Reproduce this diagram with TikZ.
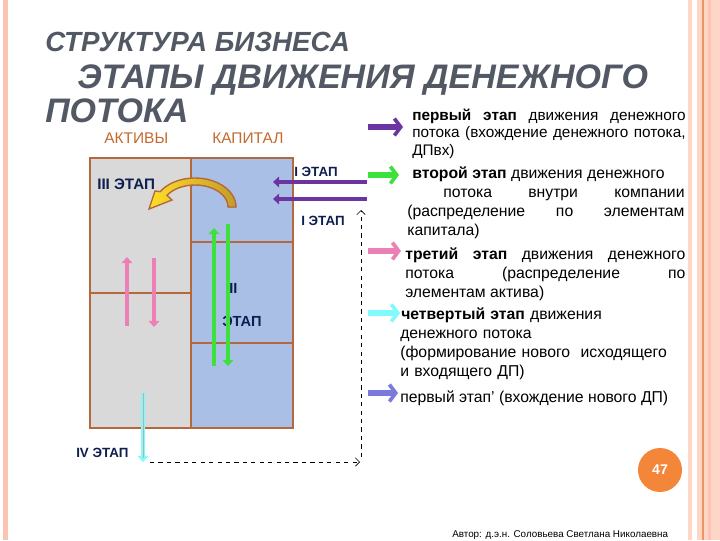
\documentclass[tikz,border=0pt]{standalone}
\usepackage{fontspec}
\setmainfont{Liberation Sans}
\usetikzlibrary{arrows.meta}
\definecolor{titlegray}{RGB}{82,88,100}
\definecolor{accent}{RGB}{196,106,48}
\definecolor{navy}{RGB}{14,30,80}
\definecolor{gridline}{RGB}{180,104,60}
\definecolor{assetgray}{RGB}{217,217,217}
\definecolor{capblue}{RGB}{170,191,230}
\definecolor{flowpurple}{RGB}{108,52,160}
\definecolor{flowgreen}{RGB}{60,225,60}
\definecolor{flowpink}{RGB}{236,128,180}
\definecolor{flowcyan}{RGB}{128,250,250}
\definecolor{flowviolet}{RGB}{122,122,222}
\definecolor{pagecirc}{RGB}{244,134,58}
\definecolor{bandA}{RGB}{252,196,176}
\definecolor{bandB}{RGB}{253,214,200}
\definecolor{bandC}{RGB}{236,148,100}
\definecolor{goldL}{RGB}{255,222,40}
\definecolor{goldR}{RGB}{196,156,40}

\begin{document}
\begin{tikzpicture}[x=0.025cm, y=-0.025cm, every node/.style={inner sep=0pt}, >={Triangle[length=4.3pt, width=7.5pt]},
	stagelbl/.style={font=\fontsize{9.5}{11}\selectfont\bfseries, text=navy, anchor=base west},
	colhead/.style={font=\fontsize{11}{13}\selectfont, text=accent, anchor=base west},
	titleln/.style={font=\bfseries\itshape, text=titlegray, anchor=base west},
	legtext/.style={font=\fontsize{11.2}{13.6}\selectfont, anchor=north west, align=justify},
	flow/.style={line width=3.5pt, ->},
	legarrow/.style={line width=4pt, -{Straight Barb[length=4.5pt, width=12pt, line width=2.6pt]}},
	dashflow/.style={dashed, thin, -{Straight Barb[length=3pt, width=6pt]}}]
	\useasboundingbox (0,0) rectangle (720,540);
	\fill[white] (0,0) rectangle (720,540);
	% page frame bands
	\fill[bandA] (3,0) rectangle (8,540);
	\fill[bandB] (688,0) rectangle (692,540);
	\fill[bandB] (697,0) rectangle (720,540);
	\fill[bandC] (702,0) rectangle (703.5,540);
	\fill[bandA] (708,0) rectangle (711,540);
	% title
	\node[titleln, font=\fontsize{19.7}{22}\selectfont\bfseries\itshape] (sub) at (45,51) {СТРУКТУРА БИЗНЕСА};
	\node[titleln, font=\fontsize{24.2}{28}\selectfont\bfseries\itshape] (ttl) at (77,88) {ЭТАПЫ ДВИЖЕНИЯ ДЕНЕЖНОГО};
	\node[titleln, font=\fontsize{24.2}{28}\selectfont\bfseries\itshape] (ttl2) at (45,122) {ПОТОКА};
	% balance sheet
	\node[colhead] (act) at (104,143) {АКТИВЫ};
	\node[colhead] (cap) at (212,143) {КАПИТАЛ};
	\filldraw[fill=assetgray, draw=gridline, line width=1.4pt] (90,158) rectangle (191,428);
	\filldraw[fill=capblue, draw=gridline, line width=1.4pt] (191,158) rectangle (293,428);
	\draw[gridline, line width=1.4pt] (90,293) -- (191,293);
	\draw[gridline, line width=1.4pt] (191,242) -- (293,242);
	\draw[gridline, line width=1.4pt] (191,343) -- (293,343);
	% curved arrow capital -> assets
	\filldraw[left color=goldL, right color=goldR, draw=gridline, line width=1pt]
		plot[domain=0:148, samples=30] ({195+41*cos(\x)},{207-29*sin(\x)}) -- (155,191) -- (149,209) -- (172,200)
		-- plot[domain=148:0, samples=30] ({195+33*cos(\x)},{207-22*sin(\x)}) -- cycle;
	% stage labels
	\node[stagelbl, font=\fontsize{10.8}{12}\selectfont\bfseries] (s3) at (97,189) {III ЭТАП};
	\node[stagelbl] (s1a) at (294,176) {I ЭТАП};
	\node[stagelbl] (s1b) at (301,225) {I ЭТАП};
	\node[stagelbl, font=\fontsize{10.4}{12}\selectfont\bfseries] (s2a) at (229,293) {II};
	\node[stagelbl, font=\fontsize{10.4}{12}\selectfont\bfseries] (s2b) at (222,326) {ЭТАП};
	\node[stagelbl] (s4) at (76,457) {IV ЭТАП};
	% flows
	\coordinate (in1) at (367,182);
	\coordinate (in1e) at (273,182);
	\coordinate (in2) at (367,199);
	\coordinate (in2e) at (273,199);
	\draw[flow, flowpurple, line width=2.9pt] (in1) -- (in1e);
	\draw[flow, flowpurple, line width=2.9pt] (in2) -- (in2e);
	\coordinate (pkU) at (127,326);
	\coordinate (pkUe) at (127,257);
	\coordinate (pkD) at (154,258);
	\coordinate (pkDe) at (154,327);
	\draw[flow, flowpink] (pkU) -- (pkUe);
	\draw[flow, flowpink] (pkD) -- (pkDe);
	\coordinate (grU) at (214,366);
	\coordinate (grUe) at (214,228);
	\coordinate (grD) at (228,224);
	\coordinate (grDe) at (228,366);
	\draw[flow, flowgreen] (grU) -- (grUe);
	\draw[flow, flowgreen] (grD) -- (grDe);
	\coordinate (cyS) at (143,393);
	\coordinate (cyE) at (143,462);
	\draw[flow, flowcyan] (cyS) -- (cyE);
	\draw[gray!60, line width=0.4pt] (143,393) -- (143,458);
	\coordinate (dS) at (150,462);
	\coordinate (dC) at (360,462);
	\coordinate (dE) at (361,210);
	\draw[dashflow] (dS) -- (dC);
	\draw[dashflow] (361,457) -- (dE);
	% legend
	\draw[legarrow, flowpurple, line width=4.3pt] (368,127) -- (403,127);
	\draw[legarrow, flowgreen] (368,175) -- (399,175);
	\draw[legarrow, flowpink] (368,251) -- (401,251);
	\draw[legarrow, flowcyan] (368,313) -- (400,313);
	\draw[legarrow, flowviolet] (368,393) -- (398,393);
	\node[legtext, text width=6.83cm, font=\fontsize{10.9}{12.2}\selectfont] (l1) at (412,109)
		{\textbf{первый этап} движения денежного\linebreak потока (вхождение денежного потока,\linebreak ДПвх)};
	\node[legtext, text width=6.93cm] (l2) at (407,166)
		{\hspace*{3.6pt}\textbf{второй этап} движения денежного\newline\hspace*{25.6pt}потока внутри компании\linebreak (распределение по элементам\linebreak капитала)};
	\node[legtext, text width=7cm] (l3) at (405,247)
		{\textbf{третий этап} движения денежного\linebreak потока (распределение по\linebreak элементам актива)};
	\node[legtext, align=left, text width=7.4cm] (l4) at (400,307)
		{\hspace*{0.7pt}\textbf{четвертый этап} движения\\денежного потока\\(формирование нового\ \ исходящего\\и входящего ДП)};
	\node[legtext, align=left] (l5) at (400,391) {первый этап’ (вхождение нового ДП)};
	% page number and footer
	\node[circle, fill=pagecirc, minimum size=44*0.025cm, text=white, font=\fontsize{10}{12}\selectfont\bfseries] (pg) at (660,470) {47};
	\node[anchor=base west, font=\fontsize{7}{8}\selectfont] (auth) at (452,537) {Автор: д.э.н. Соловьева Светлана Николаевна};
\end{tikzpicture}
\end{document}
